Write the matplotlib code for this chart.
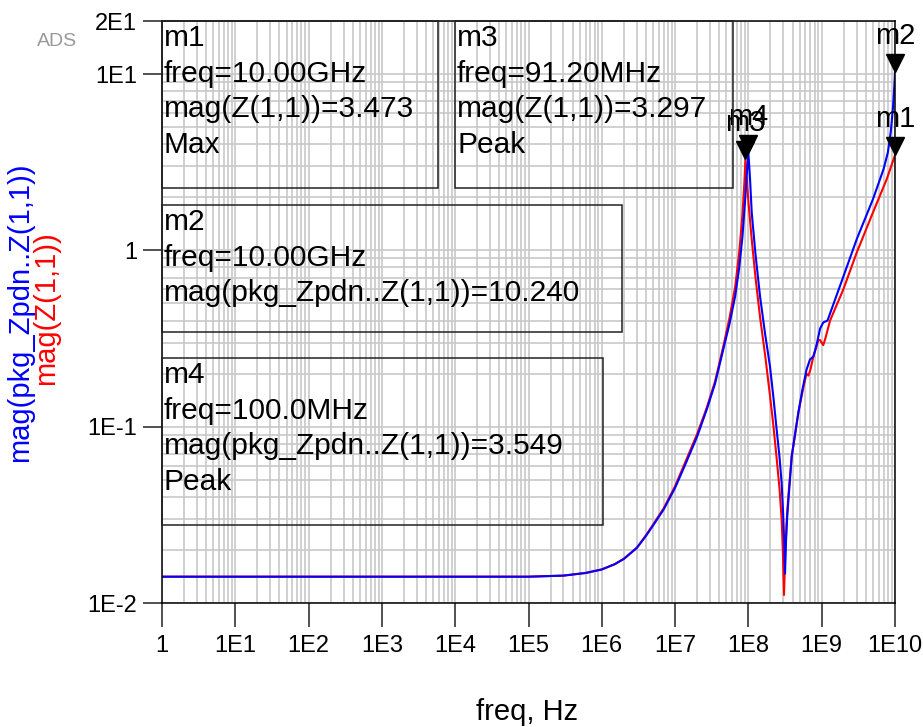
import matplotlib
matplotlib.use('Agg')
import matplotlib.pyplot as plt
import matplotlib.ticker as ticker
import matplotlib.transforms as mtrans
from matplotlib.patches import Rectangle

plt.rcParams['font.family'] = ['Liberation Sans', 'DejaVu Sans']

# mag(pkg_Zpdn..Z(1,1))  (blue)
freq_blue = [1, 1e3, 1e5, 3e5, 6e5, 1e6, 1.5e6, 2e6, 3e6, 4e6, 5e6, 7e6, 1e7, 1.4e7,
             2e7, 2.7e7, 3.5e7, 4.5e7, 5.5e7, 6.6e7, 7.5e7, 8.3e7, 9e7, 9.5e7, 1.0e8,
             1.05e8, 1.11e8, 1.25e8, 1.44e8, 1.7e8, 1.97e8, 2.2e8, 2.43e8, 2.65e8,
             2.84e8, 2.98e8, 3.08e8, 3.16e8, 3.25e8, 3.4e8, 3.9e8, 4.8e8, 5.5e8,
             6.2e8, 6.9e8, 7.7e8, 8.5e8, 9.5e8, 1.05e9, 1.2e9, 1.78e9, 3.0e9, 5.0e9,
             7.0e9, 8.0e9, 8.8e9, 9.4e9, 9.8e9, 1e10]
mag_blue = [0.0141, 0.0141, 0.0141, 0.0143, 0.0148, 0.0155, 0.0166, 0.0178, 0.0205,
            0.024, 0.0275, 0.034, 0.045, 0.062, 0.088, 0.125, 0.175, 0.27, 0.38,
            0.55, 0.80, 1.2, 1.9, 2.7, 3.549, 2.6, 1.64, 0.95, 0.55, 0.33, 0.22,
            0.145, 0.096, 0.068, 0.048, 0.032, 0.022, 0.0147, 0.022, 0.032, 0.068,
            0.12, 0.165, 0.21, 0.24, 0.25, 0.29, 0.36, 0.39, 0.40, 0.63, 1.155,
            1.95, 2.9, 3.6, 4.8, 6.5, 8.6, 10.24]

# mag(Z(1,1))  (red)
freq_red = [1, 1e3, 1e5, 3e5, 6e5, 1e6, 1.5e6, 2e6, 3e6, 4e6, 5e6, 7e6, 1e7, 1.4e7,
            2e7, 2.7e7, 3.5e7, 4.5e7, 5.5e7, 6.6e7, 7.5e7, 8.3e7, 8.8e7, 9.12e7,
            9.5e7, 1.0e8, 1.1e8, 1.25e8, 1.44e8, 1.7e8, 1.97e8, 2.2e8, 2.43e8,
            2.65e8, 2.84e8, 2.96e8, 3.06e8, 3.18e8, 3.31e8, 3.5e8, 3.9e8, 4.8e8,
            5.5e8, 6.2e8, 6.6e8, 7.0e8, 7.7e8, 9.0e8, 9.5e8, 1.05e9, 1.13e9, 1.3e9,
            1.97e9, 3.0e9, 5.0e9, 7.7e9, 1e10]
mag_red = [0.0141, 0.0141, 0.0141, 0.0143, 0.0148, 0.0155, 0.0166, 0.0178, 0.0206,
           0.0242, 0.0278, 0.0345, 0.046, 0.064, 0.091, 0.128, 0.18, 0.28, 0.41,
           0.62, 0.98, 1.6, 2.4, 3.297, 2.5, 1.9, 1.2, 0.7, 0.42, 0.25, 0.15, 0.10,
           0.066, 0.045, 0.030, 0.019, 0.0111, 0.019, 0.028, 0.040, 0.068, 0.12,
           0.16, 0.20, 0.195, 0.21, 0.25, 0.31, 0.31, 0.29, 0.32, 0.40, 0.60, 0.97,
           1.64, 2.53, 3.473]

# markers: name, freq, value
marker_names = ['m3', 'm4', 'm1', 'm2']
marker_freq = [91.2e6, 100e6, 10e9, 10e9]
marker_vals = [3.297, 3.549, 3.473, 10.24]

# marker readout boxes
box_texts = ['m1\nfreq=10.00GHz\nmag(Z(1,1))=3.473\nMax',
             'm3\nfreq=91.20MHz\nmag(Z(1,1))=3.297\nPeak',
             'm2\nfreq=10.00GHz\nmag(pkg_Zpdn..Z(1,1))=10.240',
             'm4\nfreq=100.0MHz\nmag(pkg_Zpdn..Z(1,1))=3.549\nPeak']

xticks = [1, 1e1, 1e2, 1e3, 1e4, 1e5, 1e6, 1e7, 1e8, 1e9, 1e10]
xtick_labels = ['1', '1E1', '1E2', '1E3', '1E4', '1E5', '1E6', '1E7', '1E8', '1E9', '1E10']
yticks = [0.01, 0.1, 1, 10, 20]
ytick_labels = ['1E-2', '1E-1', '1', '1E1', '2E1']

W, H = 923, 727
fig = plt.figure(figsize=(W / 100, H / 100), dpi=100)
ax = fig.add_axes([162 / W, (H - 603) / H, (895 - 162) / W, (603 - 21) / H])

ax.plot(freq_red, mag_red, color='#ff0000', lw=1.5)
ax.plot(freq_blue, mag_blue, color='#0000ff', lw=1.5)

ax.set_xscale('log')
ax.set_yscale('log')
ax.set_xlim(1, 1e10)
ax.set_ylim(0.01, 20)

ax.xaxis.set_major_locator(ticker.FixedLocator(xticks))
ax.xaxis.set_major_formatter(ticker.FixedFormatter(xtick_labels))
ax.yaxis.set_major_locator(ticker.FixedLocator(yticks))
ax.yaxis.set_major_formatter(ticker.FixedFormatter(ytick_labels))
ax.xaxis.set_minor_locator(ticker.LogLocator(base=10, subs=range(2, 10), numticks=20))
ax.yaxis.set_minor_locator(ticker.LogLocator(base=10, subs=range(2, 10), numticks=20))
ax.xaxis.set_minor_formatter(ticker.NullFormatter())
ax.yaxis.set_minor_formatter(ticker.NullFormatter())

ax.tick_params(which='major', axis='x', length=17, width=1.1, pad=6, labelsize=17, color='#222222')
ax.tick_params(which='major', axis='y', length=14, width=1.1, pad=4, labelsize=17, color='#222222')
ax.tick_params(which='minor', length=0)
ax.grid(True, which='both', color='#c8c8c8', lw=1.2)
ax.set_axisbelow(True)
for s in ax.spines.values():
    s.set_linewidth(1.1)
    s.set_color('black')

# triangles + names of the markers
tri = mtrans.offset_copy(ax.transData, fig=fig, x=0, y=9, units='dots')
for name, f, v in zip(marker_names, marker_freq, marker_vals):
    ax.plot([f], [v], marker='v', ms=13, color='black', transform=tri, clip_on=False)
    ax.annotate(name, xy=(f, v), xytext=(0, 28), textcoords='offset pixels',
                ha='center', va='baseline', fontsize=21, annotation_clip=False)

# readout boxes (pixel positions x0, y0, x1, y1)
box_pos = [(162, 21, 438, 188), (455, 21, 733, 188), (162, 205, 622, 332), (162, 358, 603, 525)]
for txt, (x0, y0, x1, y1) in zip(box_texts, box_pos):
    fig.add_artist(Rectangle((x0 / W, 1 - y1 / H), (x1 - x0) / W, (y1 - y0) / H,
                             transform=fig.transFigure, fill=False, ec='#222222', lw=1.1))
    fig.text((x0 + 2) / W, 1 - (y0 + 3) / H, txt, ha='left', va='top',
             fontsize=21.5, linespacing=1.35)

# axis titles
fig.text(20 / W, 1 - 312 / H, 'mag(pkg_Zpdn..Z(1,1))', rotation=90, color='#0000ff',
         ha='center', va='center', fontsize=21)
fig.text(46 / W, 1 - 308 / H, 'mag(Z(1,1))', rotation=90, color='#ff0000',
         ha='center', va='center', fontsize=21)
fig.text(527 / W, 1 - 720 / H, 'freq, Hz', ha='center', va='baseline', fontsize=21)
fig.text(57 / W, 1 - 42 / H, 'ADS', ha='center', va='center', fontsize=14,
         color='#999999')

fig.savefig('out.png', dpi=100)
